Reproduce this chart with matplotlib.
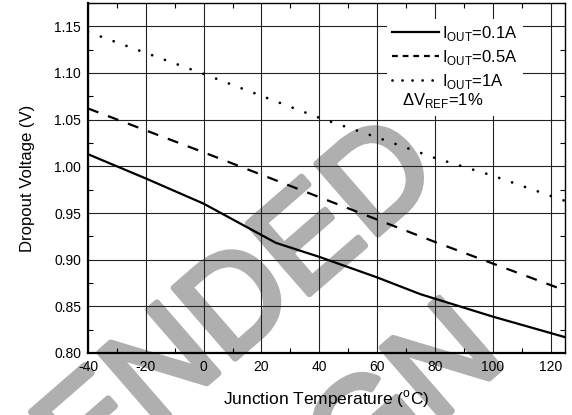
import matplotlib
matplotlib.use("Agg")
import matplotlib.pyplot as plt
import matplotlib.patheffects as pe
from matplotlib.lines import Line2D
from matplotlib.ticker import MultipleLocator

plt.rcParams['font.family'] = ['Liberation Sans', 'DejaVu Sans']
plt.rcParams['mathtext.fontset'] = 'custom'
plt.rcParams['mathtext.rm'] = 'Liberation Sans'
plt.rcParams['axes.unicode_minus'] = False

# data
temp_01 = [-40, -20, 0, 25, 40, 60, 75, 100, 125]
vdo_01 = [1.013, 0.987, 0.960, 0.918, 0.903, 0.881, 0.863, 0.839, 0.817]

temp_05 = [-40, 0, 40, 80, 125]
vdo_05 = [1.062, 1.015, 0.967, 0.919, 0.867]

temp_1 = [-40, 0, 40, 60, 80, 100, 125]
vdo_1 = [1.144, 1.099, 1.052, 1.031, 1.009, 0.990, 0.963]

x_ticks = [-40, -20, 0, 20, 40, 60, 80, 100, 120]
y_ticks = [0.80, 0.85, 0.90, 0.95, 1.00, 1.05, 1.10, 1.15]

fig = plt.figure(figsize=(5.72, 4.15), dpi=100)
ax = fig.add_axes([88/572, 62/415, 477/572, 350/415])
ax.patch.set_visible(False)

# watermark behind the chart
wm = dict(fontsize=98, color='#afafaf', rotation=41,
          rotation_mode='anchor', ha='right', va='baseline', zorder=-5,
          path_effects=[pe.withStroke(linewidth=4.5, foreground='#afafaf')])
fig.text(0.775, 0.572, 'NOT RECOMMENDED', **wm)
fig.text(0.89, 0.13, 'FOR NEW DESIGN', **wm)

ax.plot(temp_01, vdo_01, color='black', lw=1.6, solid_joinstyle='round')
ax.plot(temp_05, vdo_05, color='black', lw=1.6, dashes=(5.0, 4.6))
ax.plot(temp_1, vdo_1, color='black', lw=2.0, dashes=(0.01, 4.9),
        dash_capstyle='round')

ax.set_xlim(-40, 125)
ax.set_ylim(0.80, 1.175)
ax.set_xticks(x_ticks)
ax.set_yticks(y_ticks)
ax.set_yticklabels([f'{v:.2f}' for v in y_ticks])
ax.xaxis.set_minor_locator(MultipleLocator(10))
ax.yaxis.set_minor_locator(MultipleLocator(0.025))
ax.tick_params(which='both', direction='in', top=True, right=True,
               labelsize=10, colors='black')
ax.tick_params(which='major', length=0, pad=5)
ax.tick_params(which='minor', length=3.5, width=0.8)
ax.grid(True, which='major', color='#222222', lw=0.8)
for s in ax.spines.values():
    s.set_linewidth(1.0)
ax.spines['bottom'].set_linewidth(1.6)
ax.spines['left'].set_linewidth(1.6)

ax.set_xlabel('Junction Temperature ($^{\\mathregular{o}}$C)', fontsize=12.5, labelpad=10)
ax.set_ylabel('Dropout Voltage (V)', fontsize=12, labelpad=14)

handles = [
    Line2D([], [], color='black', lw=1.6),
    Line2D([], [], color='black', lw=1.6, dashes=(2.6, 2.2)),
    Line2D([], [], color='black', lw=2.0, dashes=(0.01, 3.6), dash_capstyle='round'),
    Line2D([], [], color='none'),
]
labels = ['I$_{\\mathregular{OUT}}$=0.1A', 'I$_{\\mathregular{OUT}}$=0.5A',
          'I$_{\\mathregular{OUT}}$=1A', ' ']
leg = ax.legend(handles, labels, loc='upper right', bbox_to_anchor=(0.912, 0.955),
                borderaxespad=0, fontsize=12, frameon=True, fancybox=False,
                edgecolor='none', facecolor='white', framealpha=1,
                handlelength=2.8, handletextpad=0.2, labelspacing=0.3,
                borderpad=0.3)
leg.set_zorder(5)
ax.text(0.658, 0.72, '\u0394V$_{\\mathregular{REF}}$=1%', transform=ax.transAxes,
        fontsize=12, ha='left', va='center', zorder=6)

fig.savefig('out.png', dpi=100)
